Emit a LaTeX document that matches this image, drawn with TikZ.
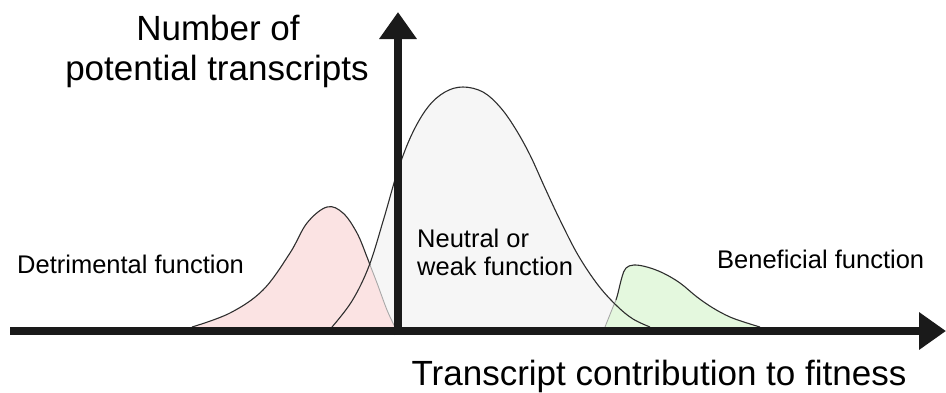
\documentclass[tikz,border=0pt]{standalone}
\usepackage{fontspec}
\setmainfont{Liberation Sans}
\usetikzlibrary{arrows.meta}
\definecolor{axisc}{HTML}{1A1A1A}
\definecolor{curvec}{HTML}{2E2E2E}
\definecolor{faintc}{HTML}{A8A8A8}
\definecolor{redfill}{HTML}{FBE3E3}
\definecolor{grayfill}{HTML}{F6F6F6}
\definecolor{greenfill}{HTML}{E4F8DE}
\tikzset{
  axisline/.style={draw=axisc, line width=7.5pt, -{Triangle[length=27pt,width=36pt]}},
  curve/.style={draw=curvec, line width=1.1pt},
  faint/.style={draw=faintc, line width=0.9pt},
  bigtext/.style={font=\fontsize{35}{40}\selectfont, text=black, inner sep=0pt},
  smalltext/.style={font=\fontsize{25.5}{28}\selectfont, text=black, inner sep=0pt},
}
\begin{document}
\begin{tikzpicture}[x=1pt,y=-1pt]
\useasboundingbox (0,0) rectangle (946,392);
% fills
\fill[grayfill] plot[smooth, tension=0.6] coordinates {(332,327) (352,301) (369,266) (384,218) (398,170) (412,134) (428,107) (445,92) (463,87) (483,92) (500,107) (515,128) (530,155) (545,188) (560,220) (578,255) (598,285) (617,306) (633,319) (650,327)} -- cycle;
\fill[redfill] plot[smooth, tension=0.6] coordinates {(192,327) (230,313) (263,290) (290,253) (307,223) (327,207) (343,213) (357,233) (367,257) (377,283) (387,310) (395,327)} -- cycle;
\fill[greenfill] plot[smooth, tension=0.6] coordinates {(605,327) (613,307) (618,293) (622,277) (626,268) (634,265) (647,267) (663,273) (680,283) (697,297) (713,308) (730,317) (747,323) (760,327)} -- cycle;
% strokes
\draw[faint] plot[smooth, tension=0.6] coordinates {(370,265) (377,283) (387,310) (395,327)};
\draw[curve] plot[smooth, tension=0.6] coordinates {(192,327) (230,313) (263,290) (290,253) (307,223) (327,207) (343,213) (357,233) (367,257) (370,265)};
\draw[faint] plot[smooth, tension=0.6] coordinates {(605,327) (613,307) (616,300)};
\draw[curve] plot[smooth, tension=0.6] coordinates {(616,300) (618,293) (622,277) (626,268) (634,265) (647,267) (663,273) (680,283) (697,297) (713,308) (730,317) (747,323) (760,327)};
\draw[curve] plot[smooth, tension=0.6] coordinates {(332,327) (352,301) (369,266) (384,218) (398,170) (412,134) (428,107) (445,92) (463,87) (483,92) (500,107) (515,128) (530,155) (545,188) (560,220) (578,255) (598,285) (617,306) (633,319) (650,327)};
% axes
\coordinate (xstart) at (10,331);
\coordinate (xend) at (946,331);
\coordinate (ystart) at (398,335);
\coordinate (yend) at (398,12);
\draw[axisline] (xstart) -- (xend);
\draw[axisline] (ystart) -- (yend);
% labels
\node[bigtext, anchor=base] (ylab1) at (218,40) {Number of};
\node[bigtext, anchor=base] (ylab2) at (217,80) {potential transcripts};
\node[bigtext, anchor=base] (xlab) at (659,385) {Transcript contribution to fitness};
\node[smalltext, anchor=base west] (det) at (17,273) {Detrimental function};
\node[smalltext, anchor=base west] (neu1) at (417,247) {Neutral or};
\node[smalltext, anchor=base west] (neu2) at (417,275) {weak function};
\node[smalltext, anchor=base west] (ben) at (717,268) {Beneficial function};
\end{tikzpicture}
\end{document}
